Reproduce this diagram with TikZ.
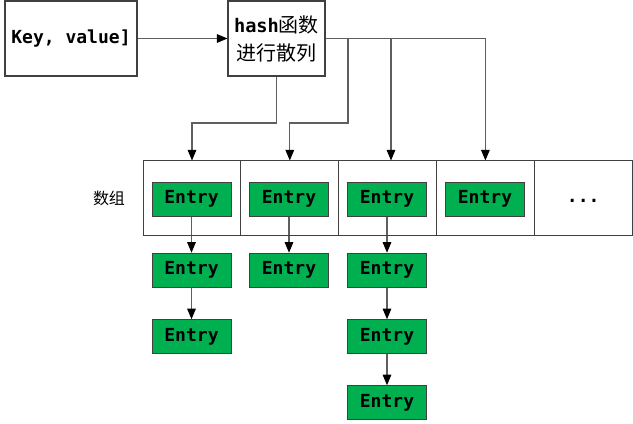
\documentclass[tikz,border=0pt]{standalone}
\usepackage{fontspec}
\setmonofont{DejaVu Sans Mono}
\newfontfamily\cjk{Noto Sans CJK SC}
\usepackage{xcolor}
\usetikzlibrary{arrows.meta}
\definecolor{entrygreen}{HTML}{00AF50}
\definecolor{boxgray}{HTML}{404040}
\definecolor{linegray}{HTML}{5F5F5F}
\tikzstyle{box}=[draw=boxgray, fill=white, line width=0.8pt, align=center, inner sep=0pt]
\tikzstyle{cell}=[draw=boxgray, minimum width=73.35pt, minimum height=56.25pt, line width=0.75pt, inner sep=0pt]
\tikzstyle{entry}=[draw=boxgray, fill=entrygreen, minimum width=59.25pt, minimum height=25.5pt, inner sep=0pt, font=\ttfamily\bfseries\fontsize{13.5}{15}\selectfont]
\tikzstyle{link}=[draw=linegray, line width=0.8pt, -{Triangle[length=8pt,width=6.5pt,black]}]
\pgfdeclarelayer{edgelayer}
\pgfdeclarelayer{nodelayer}
\pgfsetlayers{edgelayer,nodelayer,main}

\begin{document}
\begin{tikzpicture}[x=0.75pt, y=-0.75pt]
	\useasboundingbox (0,0) rectangle (633,424);
	\begin{pgfonlayer}{nodelayer}
		\node [style=box, minimum width=99pt, minimum height=56.25pt, font=\ttfamily\bfseries\fontsize{13.5}{15}\selectfont] (key) at (71, 38.5) {Key, value]};
		\node [style=box, minimum width=72.75pt, minimum height=56.25pt, font=\fontsize{15}{21}\selectfont] (hash) at (276.5, 38.5) {{\ttfamily\bfseries\fontsize{14}{21}\selectfont hash}{\cjk 函数}\\{\cjk 进行散列}};
		\node [font=\cjk\fontsize{12}{14}\selectfont] (label) at (109, 198.5) {数组};
		\node [style=cell] (c1) at (192, 198.5) {};
		\node [style=cell] (c2) at (289.8, 198.5) {};
		\node [style=cell] (c3) at (387.6, 198.5) {};
		\node [style=cell] (c4) at (485.4, 198.5) {};
		\node [style=cell, font=\ttfamily\bfseries\fontsize{13.5}{15}\selectfont] (c5) at (583.2, 198.5) {\strut...};
		\node [style=entry] (e11) at (191.5, 199) {Entry};
		\node [style=entry] (e12) at (191.5, 270) {Entry};
		\node [style=entry] (e13) at (191.5, 336.5) {Entry};
		\node [style=entry] (e21) at (289, 199) {Entry};
		\node [style=entry] (e22) at (289, 270) {Entry};
		\node [style=entry] (e31) at (387, 199) {Entry};
		\node [style=entry] (e32) at (387, 270) {Entry};
		\node [style=entry] (e33) at (387, 336.5) {Entry};
		\node [style=entry] (e34) at (387, 402.5) {Entry};
		\node [style=entry] (e41) at (485, 199) {Entry};
		\coordinate (split) at (276.5, 123);
		\coordinate (j1) at (348, 38.5);
		\coordinate (j2) at (391, 38.5);
	\end{pgfonlayer}
	\begin{pgfonlayer}{edgelayer}
		\draw [style=link] (key) to (hash);
		\draw [style=link] (hash.south) -- (hash.south |- split) -| (c1);
		\draw [style=link] (j1) -- (j1 |- split) -| (c2);
		\draw [style=link] (j2) -- (j2 |- c3.north);
		\draw [style=link] (hash.east) -| (c4);
		\draw [style=link] (e11) to (e12);
		\draw [style=link] (e12) to (e13);
		\draw [style=link] (e21) to (e22);
		\draw [style=link] (e31) to (e32);
		\draw [style=link] (e32) to (e33);
		\draw [style=link] (e33) to (e34);
	\end{pgfonlayer}
\end{tikzpicture}
\end{document}
